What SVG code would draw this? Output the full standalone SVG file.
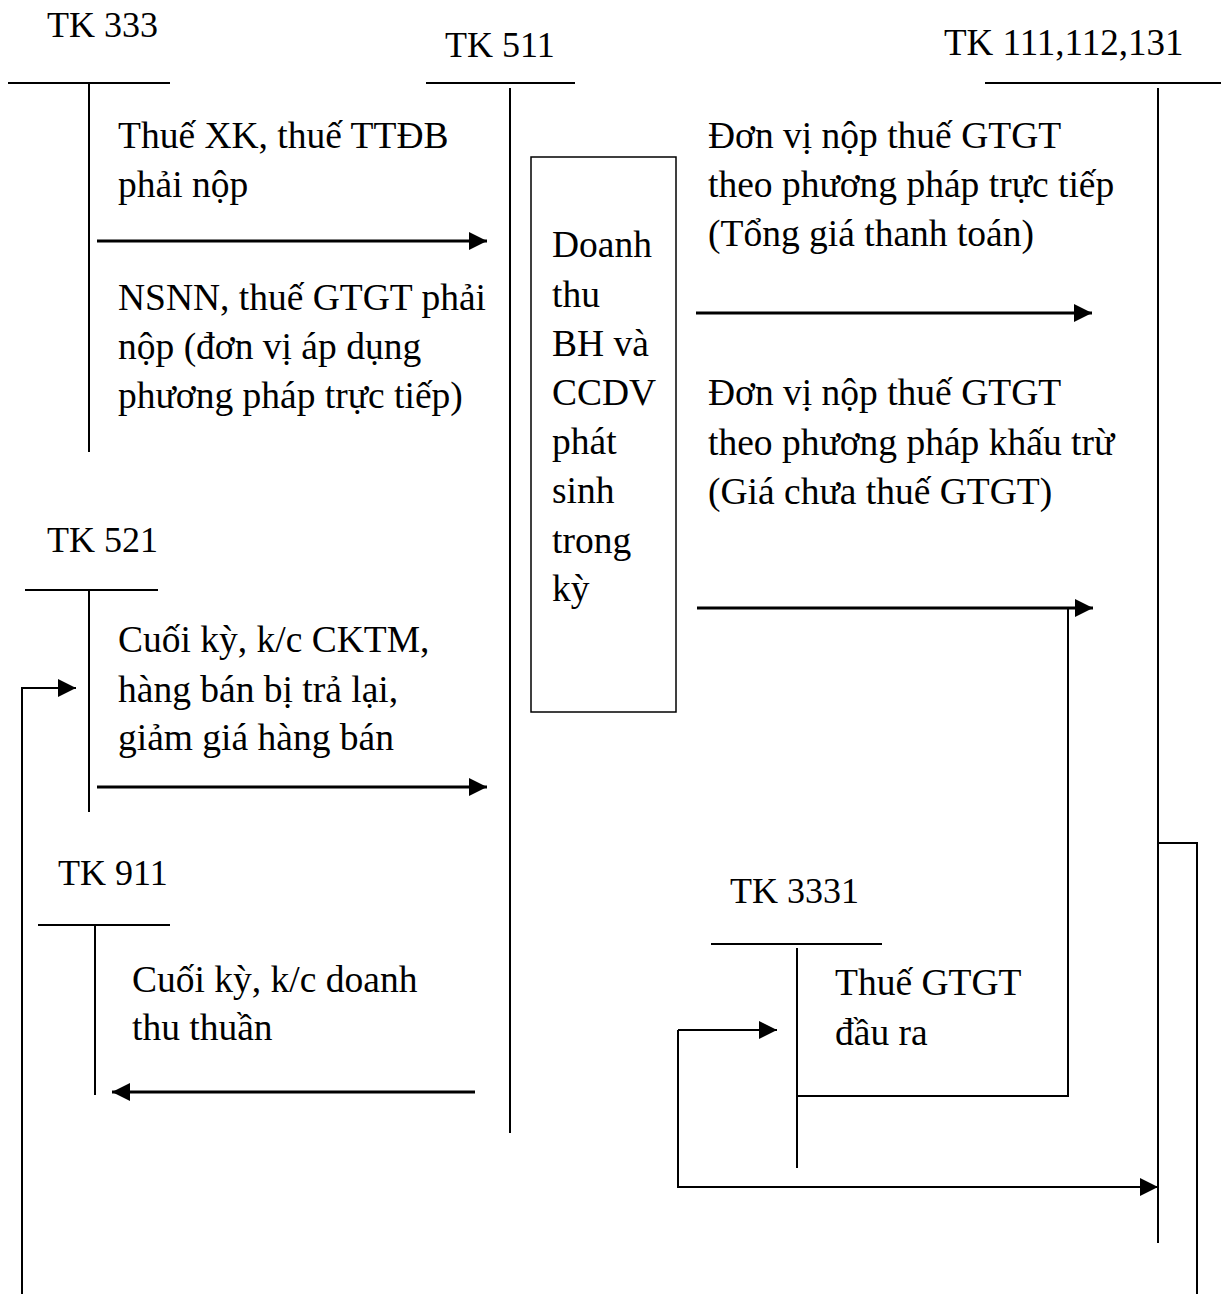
<svg xmlns="http://www.w3.org/2000/svg" width="1221" height="1294" viewBox="0 0 1221 1294">
<style>
text{font-family:"Liberation Serif","Times New Roman",serif;font-size:37.5px;fill:#000}
.lbl{font-size:36px}
.t{stroke:#000;stroke-width:2;fill:none}
.c{stroke:#000;stroke-width:3;fill:none}
.box{stroke:#000;stroke-width:1.5;fill:none}
</style>
<defs>
<marker id="ah" markerUnits="userSpaceOnUse" markerWidth="22" markerHeight="22" refX="18" refY="9" orient="auto">
<path d="M0,0 L18,9 L0,18 z" fill="#000"/>
</marker>
</defs>
<rect width="1221" height="1294" fill="#fff"/>

<g id="tk333">
<text class="lbl" x="47" y="37">TK 333</text>
<line class="t" x1="8" y1="83" x2="170" y2="83"/>
<line class="t" x1="89" y1="83" x2="89" y2="452"/>
<text x="118" y="148">Thuế XK, thuế TTĐB</text>
<text x="118" y="197">phải nộp</text>
<text x="118" y="310">NSNN, thuế GTGT phải</text>
<text x="118" y="359">nộp (đơn vị áp dụng</text>
<text x="118" y="408">phương pháp trực tiếp)</text>
</g>

<g id="tk511">
<text class="lbl" x="445" y="57">TK 511</text>
<line class="t" x1="426" y1="83" x2="575" y2="83"/>
<line class="t" x1="510" y1="88" x2="510" y2="1133"/>
</g>

<g id="box511">
<rect class="box" x="531" y="157" width="145" height="555"/>
<text x="552" y="257">Doanh</text>
<text x="552" y="307">thu</text>
<text x="552" y="356">BH và</text>
<text x="552" y="405">CCDV</text>
<text x="552" y="454">phát</text>
<text x="552" y="503">sinh</text>
<text x="552" y="553">trong</text>
<text x="552" y="601">kỳ</text>
</g>

<g id="tk111">
<text class="lbl" x="944" y="55" style="font-size:37px">TK 111,112,131</text>
<line class="t" x1="985" y1="83" x2="1221" y2="83"/>
<line class="t" x1="1158" y1="88" x2="1158" y2="1243"/>
<text x="708" y="148">Đơn vị nộp thuế GTGT</text>
<text x="708" y="197">theo phương pháp trực tiếp</text>
<text x="708" y="246">(Tổng giá thanh toán)</text>
<text x="708" y="405">Đơn vị nộp thuế GTGT</text>
<text x="708" y="455">theo phương pháp khấu trừ</text>
<text x="708" y="504">(Giá chưa thuế GTGT)</text>
</g>

<g id="tk521">
<text class="lbl" x="47" y="552">TK 521</text>
<line class="t" x1="25" y1="590" x2="158" y2="590"/>
<line class="t" x1="89" y1="590" x2="89" y2="812"/>
<text x="118" y="652">Cuối kỳ, k/c CKTM,</text>
<text x="118" y="702">hàng bán bị trả lại,</text>
<text x="118" y="750">giảm giá hàng bán</text>
</g>

<g id="tk911">
<text class="lbl" x="58" y="885">TK 911</text>
<line class="t" x1="38" y1="925" x2="170" y2="925"/>
<line class="t" x1="95" y1="925" x2="95" y2="1095"/>
<text x="132" y="992">Cuối kỳ, k/c doanh</text>
<text x="132" y="1040">thu thuần</text>
</g>

<g id="tk3331">
<text class="lbl" x="730" y="903">TK 3331</text>
<line class="t" x1="711" y1="944" x2="882" y2="944"/>
<line class="t" x1="797" y1="948" x2="797" y2="1168"/>
<text x="835" y="995">Thuế GTGT</text>
<text x="835" y="1045">đầu ra</text>
</g>

<g id="connectors">
<line class="c" x1="97" y1="241" x2="487" y2="241" marker-end="url(#ah)"/>
<line class="c" x1="696" y1="313" x2="1092" y2="313" marker-end="url(#ah)"/>
<line class="c" x1="697" y1="608" x2="1093" y2="608" marker-end="url(#ah)"/>
<polyline class="t" points="1068,608 1068,1096 797,1096"/>
<line class="c" x1="97" y1="787" x2="487" y2="787" marker-end="url(#ah)"/>
<line class="c" x1="475" y1="1092" x2="112" y2="1092" marker-end="url(#ah)"/>
<polyline class="t" points="22,1294 22,688 76,688" marker-end="url(#ah)"/>
<polyline class="t" points="1158,843 1197,843 1197,1294"/>
<line class="t" x1="678" y1="1030" x2="777" y2="1030" marker-end="url(#ah)"/>
<polyline class="t" points="678,1030 678,1187 1158,1187" marker-end="url(#ah)"/>
</g>
</svg>
